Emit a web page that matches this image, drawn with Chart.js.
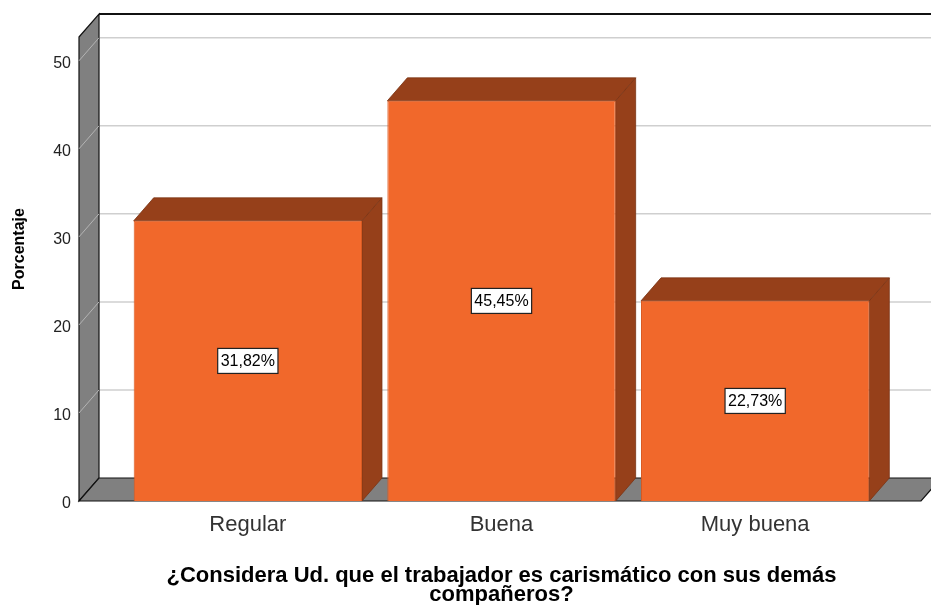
<html>
<head>
    <meta charset="utf8">
    <title>Carisma del trabajador</title>
    <style>
        body { margin:0; background:#fff; }
        #grafico { display:block; }
    </style>
</head>
<body>
    <canvas id="grafico" width="931" height="605"></canvas>
    <script src="https://cdn.jsdelivr.net/npm/chart.js@4.4.1/dist/chart.umd.min.js"></script>
    <script>
        // datos
        var categorias = ['Regular', 'Buena', 'Muy buena'];
        var porcentajes = [31.82, 45.45, 22.73];
        var ticksY = [0, 10, 20, 30, 40, 50];
        var tituloX = ['¿Considera Ud. que el trabajador es carismático con sus demás', 'compañeros?'];
        var tituloY = 'Porcentaje';

        // profundidad del efecto 3D
        var DX = 20, DY = 23;
        var MURO_IZQ = 42, PISO_DER = 39;
        var GRIS = '#808080', NARANJA = '#f1682b', MARRON = '#96401a';

        var fondo3d = {
            id: 'fondo3d',
            beforeDraw: function(chart){
                var ctx = chart.ctx, a = chart.chartArea, y = chart.scales.y;
                var x0 = a.left - MURO_IZQ, x1 = a.right + PISO_DER;
                var y0 = y.getPixelForValue(0), yTop = y.getPixelForValue(y.max);
                ctx.save();
                ctx.fillStyle = '#fff';
                ctx.fillRect(0, 0, chart.width, chart.height);
                // lineas de la pared del fondo
                ctx.strokeStyle = '#cfcfcf';
                ctx.lineWidth = 1.5;
                ticksY.forEach(function(v){
                    if (v === 0) return;
                    var py = y.getPixelForValue(v) - DY;
                    ctx.beginPath(); ctx.moveTo(x0 + DX, py); ctx.lineTo(chart.width, py); ctx.stroke();
                });
                // borde superior
                ctx.strokeStyle = '#111';
                ctx.lineWidth = 1.8;
                ctx.beginPath(); ctx.moveTo(x0 + DX, yTop - DY); ctx.lineTo(x1 + DX, yTop - DY); ctx.stroke();
                // pared izquierda
                ctx.fillStyle = GRIS;
                ctx.lineWidth = 1.2;
                ctx.beginPath();
                ctx.moveTo(x0, yTop); ctx.lineTo(x0 + DX, yTop - DY);
                ctx.lineTo(x0 + DX, y0 - DY); ctx.lineTo(x0, y0); ctx.closePath();
                ctx.fill(); ctx.stroke();
                ctx.strokeStyle = '#b4b4b4';
                ctx.lineWidth = 1;
                ticksY.forEach(function(v){
                    if (v === 0) return;
                    var py = y.getPixelForValue(v);
                    ctx.beginPath(); ctx.moveTo(x0, py); ctx.lineTo(x0 + DX, py - DY); ctx.stroke();
                });
                // piso
                ctx.strokeStyle = '#111';
                ctx.lineWidth = 1.2;
                ctx.beginPath();
                ctx.moveTo(x0, y0); ctx.lineTo(x0 + DX, y0 - DY);
                ctx.lineTo(x1 + DX, y0 - DY); ctx.lineTo(x1, y0); ctx.closePath();
                ctx.fill(); ctx.stroke();
                ctx.restore();
            },
            beforeDatasetsDraw: function(chart){
                var ctx = chart.ctx, y0 = chart.scales.y.getPixelForValue(0);
                ctx.save();
                ctx.fillStyle = MARRON;
                ctx.strokeStyle = '#7a3314';
                ctx.lineWidth = 0.8;
                chart.getDatasetMeta(0).data.forEach(function(b){
                    var l = b.x - b.width / 2, r = b.x + b.width / 2, t = b.y;
                    ctx.beginPath();
                    ctx.moveTo(l, t); ctx.lineTo(l + DX, t - DY); ctx.lineTo(r + DX, t - DY); ctx.lineTo(r, t); ctx.closePath();
                    ctx.fill(); ctx.stroke();
                    ctx.beginPath();
                    ctx.moveTo(r, t); ctx.lineTo(r + DX, t - DY); ctx.lineTo(r + DX, y0 - DY); ctx.lineTo(r, y0); ctx.closePath();
                    ctx.fill(); ctx.stroke();
                });
                ctx.restore();
            },
            afterDatasetsDraw: function(chart){
                var ctx = chart.ctx, y0 = chart.scales.y.getPixelForValue(0);
                ctx.save();
                ctx.font = '16px "Liberation Sans", Arial, sans-serif';
                ctx.textAlign = 'center';
                ctx.textBaseline = 'middle';
                chart.getDatasetMeta(0).data.forEach(function(b, i){
                    var txt = porcentajes[i].toFixed(2).replace('.', ',') + '%';
                    var cy = (b.y + y0) / 2;
                    var w = ctx.measureText(txt).width + 6, h = 25;
                    ctx.fillStyle = '#fff';
                    ctx.fillRect(b.x - w / 2, cy - h / 2, w, h);
                    ctx.strokeStyle = '#222';
                    ctx.lineWidth = 1.2;
                    ctx.strokeRect(b.x - w / 2, cy - h / 2, w, h);
                    ctx.fillStyle = '#000';
                    ctx.fillText(txt, b.x, cy + 1);
                });
                ctx.restore();
            },
            afterDraw: function(chart){
                var ctx = chart.ctx;
                ctx.save();
                ctx.translate(20, 249);
                ctx.rotate(-Math.PI / 2);
                ctx.font = 'bold 16px "Liberation Sans", Arial, sans-serif';
                ctx.fillStyle = '#000';
                ctx.textAlign = 'center';
                ctx.textBaseline = 'middle';
                ctx.fillText(tituloY, 0, 0);
                ctx.restore();
            }
        };

        window.onload = function(){
            new Chart(document.getElementById('grafico'), {
                type: 'bar',
                data: {
                    labels: categorias,
                    datasets: [{
                        data: porcentajes,
                        backgroundColor: NARANJA,
                        borderColor: '#d9591f',
                        borderWidth: 1,
                        categoryPercentage: 0.9,
                        barPercentage: 1
                    }]
                },
                options: {
                    responsive: false,
                    animation: false,
                    devicePixelRatio: 1,
                    layout: { padding: { top: 37, right: 49, left: 0, bottom: 0 } },
                    plugins: {
                        legend: { display: false },
                        tooltip: { enabled: false }
                    },
                    scales: {
                        x: {
                            grid: { display: false, drawTicks: false },
                            border: { display: false },
                            ticks: {
                                color: '#333',
                                padding: 11,
                                font: { family: '"Liberation Sans", Arial, sans-serif', size: 22 }
                            },
                            title: {
                                display: true,
                                text: tituloX,
                                color: '#000',
                                padding: 0,
                                font: { family: '"Liberation Sans", Arial, sans-serif', size: 22, weight: 'bold', lineHeight: 0.88 }
                            },
                            afterFit: function(s){ s.height = 104; }
                        },
                        y: {
                            min: 0,
                            max: 52.7,
                            grid: { display: false, drawTicks: false },
                            border: { display: false },
                            afterBuildTicks: function(s){ s.ticks = ticksY.map(function(v){ return { value: v }; }); },
                            ticks: {
                                color: '#222',
                                padding: 50,
                                labelOffset: 3,
                                font: { family: '"Liberation Sans", Arial, sans-serif', size: 16 }
                            },
                            afterFit: function(s){ s.width = 121; s.paddingTop = 0; s.paddingBottom = 0; }
                        }
                    }
                },
                plugins: [fondo3d]
            });
        };
    </script>
</body>
</html>
